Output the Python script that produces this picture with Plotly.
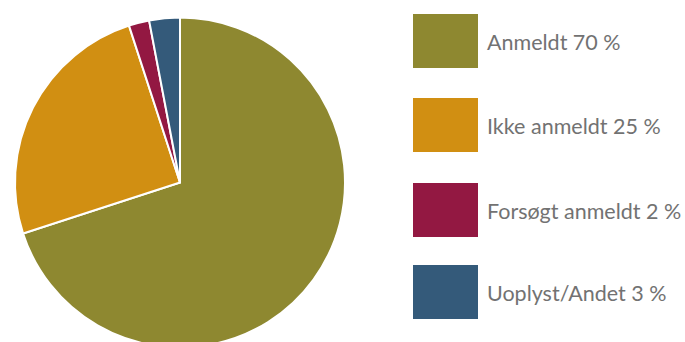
import plotly.graph_objects as go

# Data
categories = ["Anmeldt", "Ikke anmeldt", "Forsøgt anmeldt", "Uoplyst/Andet"]
shares = [70, 25, 2, 3]
colors = ["#8E8830", "#D18F12", "#931842", "#345A7A"]

W, H = 685, 350

fig = go.Figure()

# Pie, starting at 12 o'clock and running clockwise
cx, cy, r = 180, 182.5, 165
fig.add_trace(go.Pie(
    labels=categories,
    values=shares,
    sort=False,
    direction="clockwise",
    rotation=0,
    textinfo="none",
    hoverinfo="label+percent",
    marker=dict(colors=colors, line=dict(color="white", width=2)),
    domain=dict(x=[(cx - r) / W, (cx + r) / W],
                y=[1 - (cy + r) / H, 1 - (cy - r) / H]),
    showlegend=False,
))

# Hand-drawn legend: colour swatch + label per slice
sw_x0, sw_x1 = 413, 478
sw_tops = [14, 98, 183, 265]
sw_h = 54
shapes, annotations = [], []
for cat, val, col, top in zip(categories, shares, colors, sw_tops):
    shapes.append(dict(type="rect", xref="x", yref="y",
                       x0=sw_x0, x1=sw_x1, y0=top, y1=top + sw_h,
                       fillcolor=col, line=dict(width=0)))
    annotations.append(dict(xref="x", yref="y", x=sw_x1 + 7, y=top + sw_h / 2 + 1,
                            text=f"{cat} {val} %", showarrow=False,
                            xanchor="left", yanchor="middle",
                            font=dict(family="Lato", size=21.5, color="#727272")))

fig.update_layout(
    width=W, height=H,
    margin=dict(l=0, r=0, t=0, b=0),
    paper_bgcolor="white", plot_bgcolor="white",
    xaxis=dict(range=[0, W], visible=False, fixedrange=True),
    yaxis=dict(range=[H, 0], visible=False, fixedrange=True),
    shapes=shapes, annotations=annotations,
)

fig.write_html("out.html")
